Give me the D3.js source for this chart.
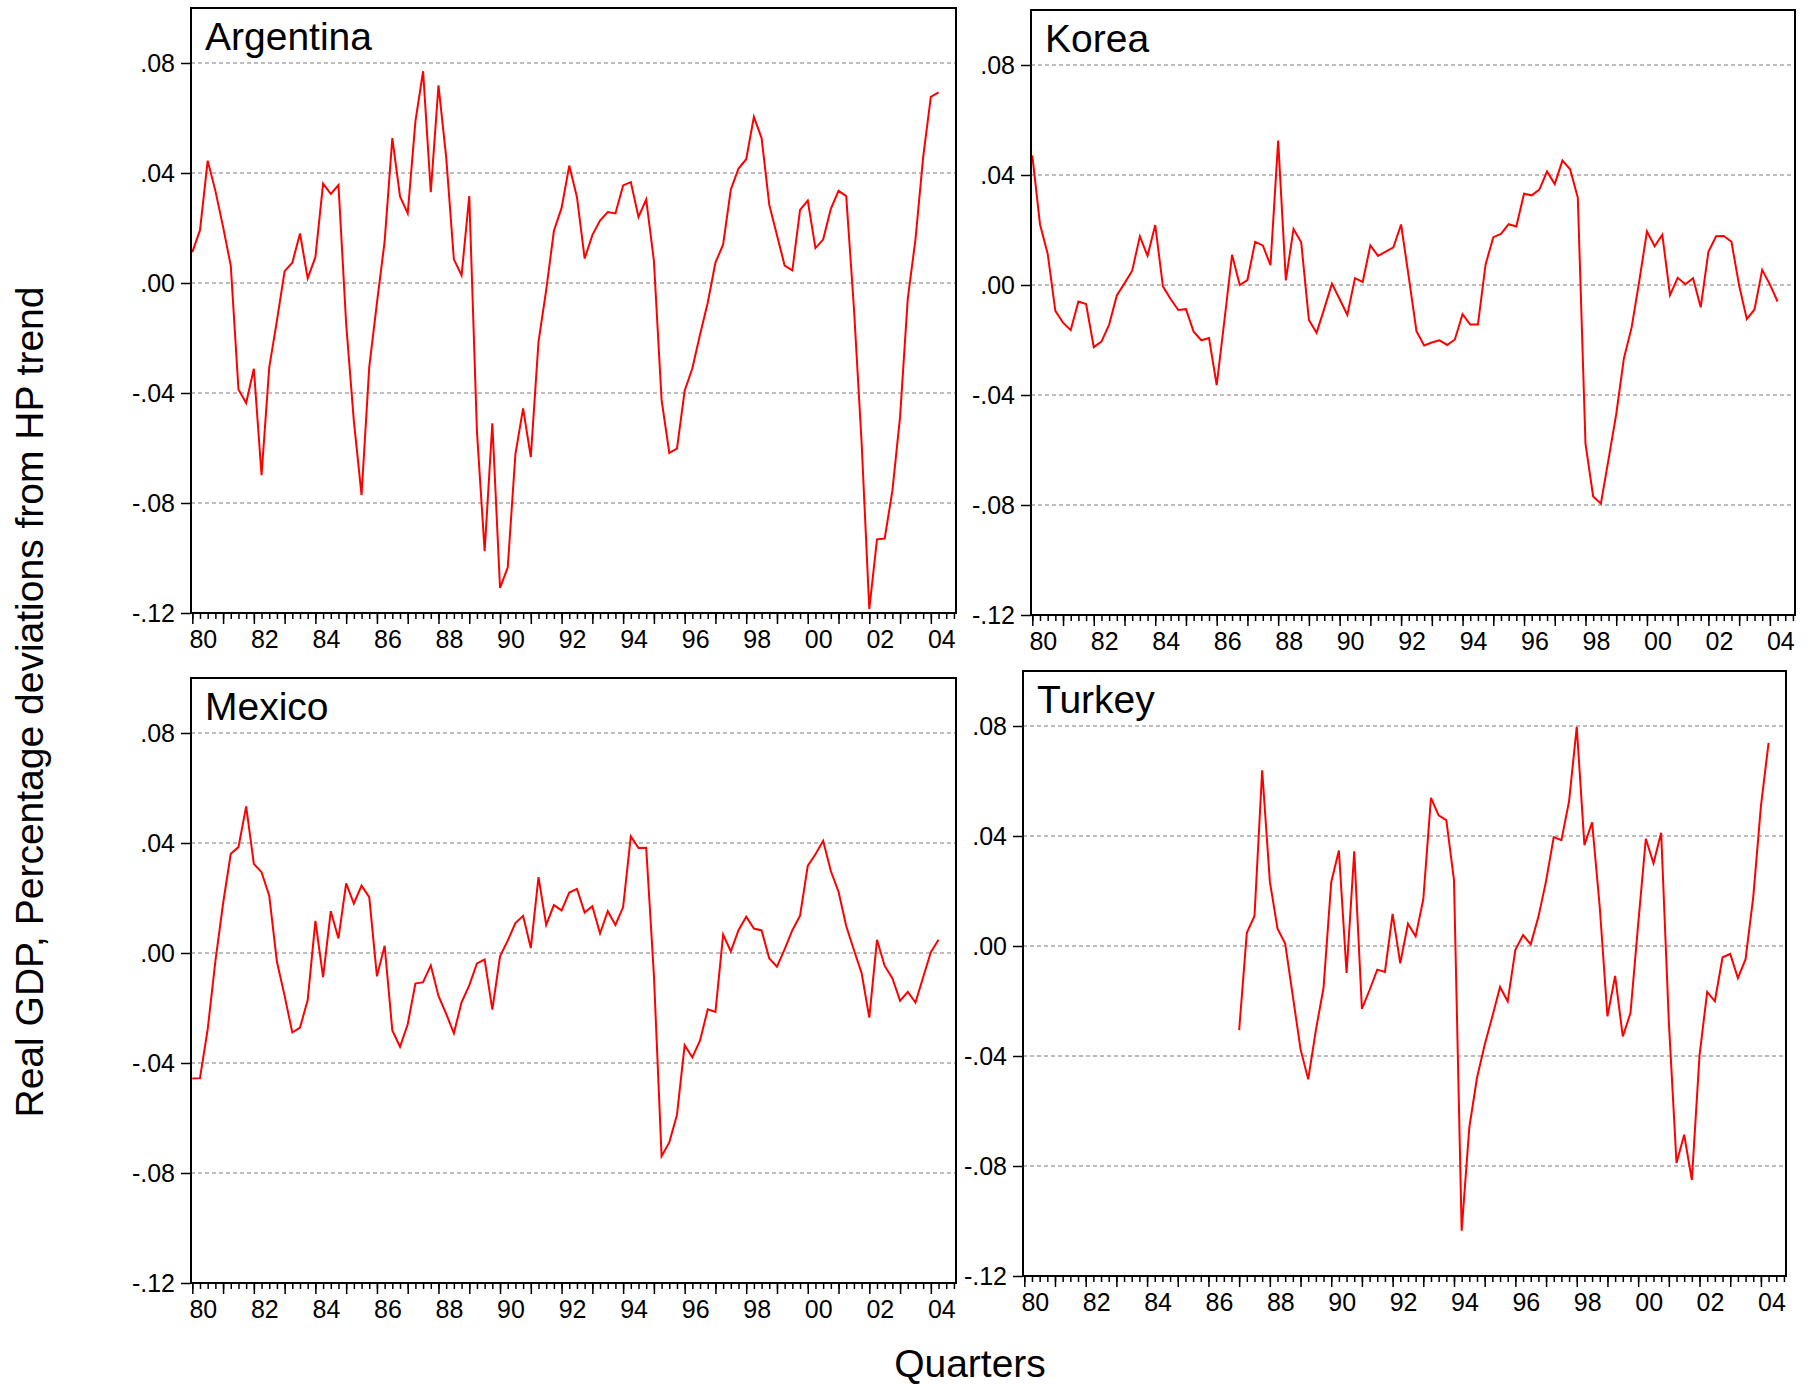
<!DOCTYPE html>
<html>
<head>
<meta charset="utf-8">
<script src="https://cdn.jsdelivr.net/npm/d3@7"></script>
<style>
  body { margin: 0; background: #ffffff; }
  svg text { font-family: Arial, "Liberation Sans", sans-serif; fill: #000000; }
</style>
</head>
<body>
<svg id="chart" width="1812" height="1385"></svg>
<script>
// quarterly HP-filter deviations, 1980Q1 .. 2004Q2
let quarters = d3.range(1980, 2005).flatMap(function(yr) {
    return [1, 2, 3, 4].map(function(q) { return yr + "Q" + q; });
});

let argentina = [
    0.0112, 0.0192, 0.0445, 0.0335, 0.0204, 0.0063, -0.0387, -0.0436, -0.0312, -0.0699,
    -0.0307, -0.0137, 0.0043, 0.0074, 0.0180, 0.0017, 0.0094, 0.0361, 0.0324, 0.0356,
    -0.0149, -0.0502, -0.0771, -0.0306, -0.0072, 0.0151, 0.0527, 0.0315, 0.0253, 0.0588,
    0.0770, 0.0330, 0.0719, 0.0458, 0.0086, 0.0028, 0.0316, -0.0541, -0.0975, -0.0510,
    -0.1109, -0.1035, -0.0622, -0.0456, -0.0633, -0.0214, -0.0026, 0.0189, 0.0273, 0.0427,
    0.0312, 0.0089, 0.0174, 0.0227, 0.0258, 0.0253, 0.0355, 0.0367, 0.0240, 0.0304,
    0.0081, -0.0425, -0.0618, -0.0602, -0.0392, -0.0310, -0.0187, -0.0072, 0.0074, 0.0140,
    0.0340, 0.0416, 0.0450, 0.0604, 0.0527, 0.0284, 0.0174, 0.0063, 0.0046, 0.0266,
    0.0300, 0.0127, 0.0158, 0.0270, 0.0335, 0.0316, -0.0090, -0.0580, -0.1186, -0.0932,
    -0.0929, -0.0756, -0.0487, -0.0057, 0.0158, 0.0458, 0.0677, 0.0693
];

let korea = [
    0.0471, 0.0221, 0.0114, -0.0094, -0.0137, -0.0164, -0.0060, -0.0069, -0.0226, -0.0206,
    -0.0144, -0.0038, 0.0006, 0.0052, 0.0177, 0.0106, 0.0218, -0.0005, -0.0051, -0.0091,
    -0.0088, -0.0170, -0.0201, -0.0193, -0.0364, -0.0130, 0.0110, 0.0000, 0.0018, 0.0157,
    0.0144, 0.0072, 0.0525, 0.0017, 0.0204, 0.0155, -0.0127, -0.0174, -0.0086, 0.0005,
    -0.0051, -0.0109, 0.0025, 0.0011, 0.0144, 0.0106, 0.0121, 0.0137, 0.0220, 0.0029,
    -0.0168, -0.0220, -0.0209, -0.0201, -0.0218, -0.0198, -0.0106, -0.0144, -0.0144, 0.0075,
    0.0174, 0.0186, 0.0221, 0.0213, 0.0332, 0.0326, 0.0347, 0.0413, 0.0367, 0.0453,
    0.0421, 0.0318, -0.0577, -0.0769, -0.0795, -0.0634, -0.0470, -0.0267, -0.0155, 0.0014,
    0.0195, 0.0141, 0.0183, -0.0037, 0.0026, 0.0003, 0.0025, -0.0081, 0.0121, 0.0177,
    0.0178, 0.0157, -0.0002, -0.0124, -0.0089, 0.0055, 0.0002, -0.0060
];

let mexico = [
    -0.0456, -0.0455, -0.0277, -0.0030, 0.0180, 0.0361, 0.0385, 0.0533, 0.0324, 0.0294,
    0.0208, -0.0032, -0.0156, -0.0289, -0.0271, -0.0171, 0.0117, -0.0088, 0.0152, 0.0053,
    0.0253, 0.0180, 0.0245, 0.0203, -0.0085, 0.0026, -0.0282, -0.0341, -0.0259, -0.0111,
    -0.0106, -0.0045, -0.0156, -0.0221, -0.0292, -0.0179, -0.0118, -0.0038, -0.0024, -0.0206,
    -0.0012, 0.0045, 0.0109, 0.0135, 0.0018, 0.0276, 0.0102, 0.0174, 0.0155, 0.0220,
    0.0233, 0.0147, 0.0170, 0.0071, 0.0152, 0.0102, 0.0167, 0.0424, 0.0382, 0.0383,
    -0.0080, -0.0739, -0.0689, -0.0588, -0.0335, -0.0380, -0.0318, -0.0205, -0.0214, 0.0067,
    0.0006, 0.0083, 0.0132, 0.0089, 0.0082, -0.0020, -0.0050, 0.0014, 0.0083, 0.0136,
    0.0317, 0.0359, 0.0408, 0.0298, 0.0223, 0.0098, 0.0011, -0.0073, -0.0235, 0.0048,
    -0.0047, -0.0092, -0.0174, -0.0141, -0.0180, -0.0088, 0.0003, 0.0048
];

// Turkey series only starts in 1987
let turkeyStart = "1987Q1";
let turkey = [
    -0.0306, 0.0048, 0.0109, 0.0639, 0.0235, 0.0063, 0.0009, -0.0183, -0.0375, -0.0485,
    -0.0306, -0.0152, 0.0232, 0.0347, -0.0098, 0.0344, -0.0229, -0.0160, -0.0086, -0.0094,
    0.0117, -0.0063, 0.0081, 0.0035, 0.0170, 0.0539, 0.0475, 0.0458, 0.0240, -0.1035,
    -0.0659, -0.0479, -0.0359, -0.0256, -0.0149, -0.0201, -0.0014, 0.0040, 0.0006, 0.0106,
    0.0236, 0.0396, 0.0385, 0.0527, 0.0797, 0.0367, 0.0450, 0.0140, -0.0256, -0.0109,
    -0.0329, -0.0244, 0.0078, 0.0390, 0.0301, 0.0412, -0.0275, -0.0789, -0.0686, -0.0851,
    -0.0398, -0.0167, -0.0201, -0.0041, -0.0029, -0.0117, -0.0048, 0.0178, 0.0508, 0.0739
];

let yTicks = [-0.12, -0.08, -0.04, 0, 0.04, 0.08];
let yTickLabels = ["-.12", "-.08", "-.04", ".00", ".04", ".08"];
let xTickLabels = ["80", "82", "84", "86", "88", "90", "92", "94", "96", "98", "00", "02", "04"];

function padSeries(values, start) {
    let offset = quarters.indexOf(start);
    return quarters.slice(0, offset).map(function() { return null; }).concat(values);
}

let chart = d3.select("#chart");

chart.append("rect")
    .attr("width", 1812)
    .attr("height", 1385)
    .attr("fill", "#ffffff");

// panel boxes
let panels = [
    { name: "Argentina", values: argentina, left: 191, right: 956, top: 8, bottom: 613 },
    { name: "Korea", values: korea, left: 1031, right: 1795, top: 10, bottom: 615 },
    { name: "Mexico", values: mexico, left: 191, right: 956, top: 678, bottom: 1283 },
    { name: "Turkey", values: padSeries(turkey, turkeyStart), left: 1023, right: 1786, top: 671, bottom: 1276 }
];

panels.forEach(function(p) {
    let g = chart.append("g").attr("class", "panel");

    let x = d3.scaleLinear()
        .domain([-0.17, 99.27])
        .range([p.left, p.right]);

    let y = d3.scaleLinear()
        .domain([-0.12, 0.10])
        .range([p.bottom, p.top]);

    // dashed grid lines
    g.selectAll("grid")
        .data(yTicks.filter(function(d) { return d > -0.12; }))
        .enter()
        .append("line")
        .attr("x1", p.left)
        .attr("x2", p.right)
        .attr("y1", function(d) { return y(d); })
        .attr("y2", function(d) { return y(d); })
        .attr("stroke", "#7a7a7a")
        .attr("stroke-width", 1)
        .attr("stroke-dasharray", "4,3");

    // y axis
    let yAxis = d3.axisLeft(y)
        .tickValues(yTicks)
        .tickSize(10)
        .tickPadding(6)
        .tickFormat(function(d, i) { return yTickLabels[i]; });
    let yAxisGroup = g.append("g")
        .attr("transform", "translate(" + p.left + ",0)")
        .call(yAxis);
    yAxisGroup.select(".domain").remove();
    yAxisGroup.selectAll("line").attr("stroke", "#000").attr("stroke-width", 1.5);
    yAxisGroup.selectAll("text")
        .style("font-size", "25px")
        .attr("font-family", null)
        .attr("fill", "#000");

    // x axis: minor ticks every quarter, major ticks every year
    let minorAxis = d3.axisBottom(x)
        .tickValues(d3.range(0, quarters.length))
        .tickSize(6)
        .tickFormat("");
    let minorGroup = g.append("g")
        .attr("transform", "translate(0," + p.bottom + ")")
        .call(minorAxis);
    minorGroup.select(".domain").remove();
    minorGroup.selectAll("line").attr("stroke", "#000").attr("stroke-width", 1.5);

    let majorAxis = d3.axisBottom(x)
        .tickValues(d3.range(0, quarters.length, 4))
        .tickSize(11)
        .tickFormat("");
    let majorGroup = g.append("g")
        .attr("transform", "translate(0," + p.bottom + ")")
        .call(majorAxis);
    majorGroup.select(".domain").remove();
    majorGroup.selectAll("line").attr("stroke", "#000").attr("stroke-width", 1.5);

    g.selectAll("xlabels")
        .data(xTickLabels)
        .enter()
        .append("text")
        .attr("x", function(d, i) { return x(i * 8) + 11; })
        .attr("y", p.bottom + 35)
        .style("text-anchor", "middle")
        .style("font-size", "25px")
        .text(function(d) { return d; });

    // series line
    let line = d3.line()
        .defined(function(d) { return d != null; })
        .x(function(d, i) { return x(i); })
        .y(function(d) { return y(d); });

    g.append("path")
        .datum(p.values)
        .attr("d", line)
        .attr("fill", "none")
        .attr("stroke", "#ff0000")
        .attr("stroke-width", 2);

    // frame
    g.append("rect")
        .attr("x", p.left)
        .attr("y", p.top)
        .attr("width", p.right - p.left)
        .attr("height", p.bottom - p.top)
        .attr("fill", "none")
        .attr("stroke", "#000")
        .attr("stroke-width", 2);

    g.append("text")
        .attr("x", p.left + 14)
        .attr("y", p.top + 42)
        .style("font-size", "39px")
        .text(p.name);
});

chart.append("text")
    .attr("transform", "translate(43,702) rotate(-90)")
    .style("text-anchor", "middle")
    .style("font-size", "39px")
    .text("Real GDP, Percentage deviations from HP trend");

chart.append("text")
    .attr("x", 970)
    .attr("y", 1377)
    .style("text-anchor", "middle")
    .style("font-size", "39px")
    .text("Quarters");
</script>
</body>
</html>
